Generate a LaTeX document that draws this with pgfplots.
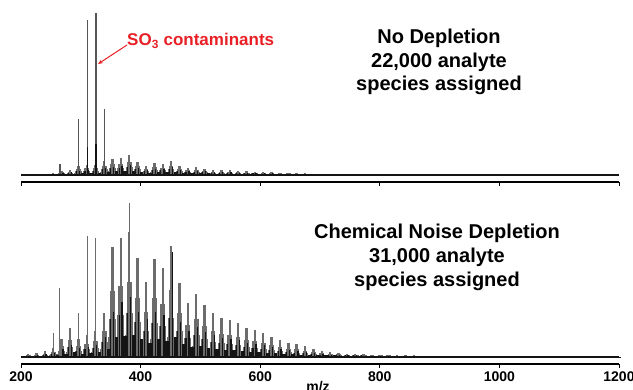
\documentclass[border=0pt]{standalone}
\usepackage{pgfplots}
\pgfplotsset{compat=1.18}
\usepackage{pgfplotstable}
\usepackage{fontspec}
\setmainfont{Liberation Sans}
\usetikzlibrary{arrows.meta}
\definecolor{clgray}{RGB}{108,108,108}
\definecolor{clblack}{RGB}{20,20,20}
\definecolor{clred}{RGB}{232,32,38}
\definecolor{linegray}{RGB}{85,85,85}

% bottom panel (Chemical Noise Depletion): cluster centre c, spike h, upper m, middle s, base b, black spike k
\pgfplotstableread{
c h m s b k
212 3 2 1.2 0.8 1.5
226 4 2.5 1.5 1 2
240 6 3.5 2 1.2 3
254 9 5.5 3 1.8 4
268 18 11 6 3.5 8
282 29 17 10 5 12
296 18 11 6 3.5 9
310 22 13 8 4 10
324 26 16 9 5 12
339 44 26 15 8 20
353 110 66 38 20 45
367 119 71 42 21 55
381 125 75 44 22 60
395 99 59 35 18 45
409 75 45 26 14 38
423 98 59 34 18 45
437 89 53 31 16 42
451 111 67 39 20 105
465 74 44 26 13 35
479 54 32 19 10 26
493 63 38 22 11 30
507 52 31 18 9 25
521 44 26 15 8 22
535 39 23 14 7 19
549 37 22 13 7 18
563 34 20 12 6 17
577 29 17 10 5 14
591 27 16 9.5 5 13
605 24 14 8.5 4.5 12
619 20 12 7 4 10
633 17 10 6 3.5 8
647 14 8.5 5 3 7
661 13 8 4.5 2.5 6
675 11 6.5 4 2.2 5
689 8 5 3 2 4
703 6 4 2.5 1.8 3
717 5 3.3 2.2 1.6 2.5
731 4 2.8 2 1.5 2
745 3.5 2.5 1.8 1.4 1.8
759 3 2.2 1.7 1.3 1.6
773 2.6 2 1.6 1.2 1.4
787 2.4 1.9 1.5 1.1 1.3
801 2.2 1.8 1.4 1.1 1.2
815 2 1.6 1.3 1 1.1
829 1.9 1.5 1.2 1 1
843 1.8 1.4 1.1 0.9 1
857 1.6 1.3 1.1 0.9 1
871 1.5 1.2 1 0.8 0.9
885 1.4 1.1 0.9 0.8 0.8
899 1.3 1 0.9 0.7 0.8
913 1.2 1 0.8 0.7 0.7
927 1.1 0.9 0.8 0.6 0.7
941 1 0.8 0.7 0.6 0.6
955 1 0.8 0.7 0.6 0.6
969 0.9 0.7 0.6 0.5 0.5
983 0.9 0.7 0.6 0.5 0.5
997 0.8 0.6 0.5 0.5 0.5
1011 0.8 0.6 0.5 0.4 0.4
1025 0.7 0.5 0.5 0.4 0.4
1039 0.7 0.5 0.4 0.4 0.4
1053 0.6 0.5 0.4 0.3 0.3
1067 0.6 0.4 0.4 0.3 0.3
1081 0.5 0.4 0.3 0.3 0.3
1095 0.5 0.4 0.3 0.3 0.3
1109 0.5 0.4 0.3 0.3 0.3
1123 0.4 0.3 0.3 0.2 0.2
1137 0.4 0.3 0.3 0.2 0.2
1151 0.4 0.3 0.3 0.2 0.2
1165 0.4 0.3 0.2 0.2 0.2
1179 0.3 0.3 0.2 0.2 0.2
1193 0.3 0.2 0.2 0.2 0.2
}\bottomdata

% top panel (No Depletion)
\pgfplotstableread{
c h m s b k
226 0.8 0.6 0.5 0.4 0.4
240 1 0.8 0.6 0.5 0.5
254 2 1.4 1 0.7 1
268 4 2.6 1.7 1.1 2
282 5 3.3 2.2 1.3 2.5
296 9 6 3.8 2.2 4
310 10 6.5 4 2.4 5
324 10 6.5 4 2.4 5
339 14 9 5.5 3 7
353 16 10.5 6.5 3.5 8
367 17 11 7 3.8 9
381 20 13 8 4.2 10
395 13 8.5 5.5 3 7
409 9 6 3.8 2.2 5
423 12 8 5 2.8 6
437 11 7.2 4.5 2.6 6
451 14 9 5.5 3 8
465 9 6 3.8 2.2 5
479 7 4.6 3 1.8 4
493 8 5.2 3.3 2 4
507 6 4 2.6 1.6 3.5
521 5 3.4 2.2 1.4 3
535 5 3.4 2.2 1.4 3
549 4.5 3 2 1.3 2.5
563 4 2.7 1.8 1.2 2.3
577 3.5 2.4 1.7 1.1 2
591 3 2.1 1.5 1 1.8
605 2.8 2 1.4 1 1.6
619 2.5 1.8 1.3 0.9 1.5
633 2.2 1.6 1.2 0.9 1.3
647 2 1.5 1.1 0.8 1.2
661 1.8 1.3 1 0.8 1.1
675 1.5 1.1 0.9 0.7 1
689 1.3 1 0.8 0.6 0.9
703 1.2 0.9 0.7 0.6 0.8
717 1 0.8 0.7 0.5 0.7
731 1 0.8 0.6 0.5 0.7
745 0.9 0.7 0.6 0.5 0.6
759 0.8 0.6 0.5 0.4 0.5
773 0.7 0.5 0.5 0.4 0.4
}\topdata

\pgfplotsset{
  specaxis/.style={
    scale only axis, width=598pt,
    xmin=200, xmax=1200, ymin=-7,
    axis x line*=bottom, hide y axis,
    xtick={200,400,600,800,1000,1200},
    tick align=outside, major tick length=4pt,
    tick style={black, line width=1pt},
    axis line style={black, line width=1.3pt},
    /pgf/number format/assume math mode=true,
    ticklabel style={font=\bfseries\fontsize{14}{14}\selectfont},
    clip=false,
  },
  lay3/.style={clgray, ycomb, line width=8.4pt, mark=none},
  lay2/.style={clgray, ycomb, line width=6.8pt, mark=none},
  lay1/.style={clgray, ycomb, line width=4.8pt, mark=none},
  spike/.style={clgray, ycomb, line width=2.4pt, mark=none},
  blk/.style={clblack, ycomb, line width=1.3pt, mark=none},
  blk2/.style={clblack, ycomb, line width=1.1pt, mark=none},
  floor/.style={clblack, ycomb, line width=3.4pt, mark=none},
}

\begin{document}
\begin{tikzpicture}[x=1pt,y=1pt]
\useasboundingbox (0,0) rectangle (633,389);

% ---------- bottom panel ----------
\begin{axis}[specaxis, at={(21pt,25pt)}, anchor=south west,
  height=172pt, ymax=165,
  xticklabels={200,400,600,800,1000,1200}]
  \addplot[lay3] table[x=c,y=b] {\bottomdata};
  \addplot[lay2] table[x=c,y=s] {\bottomdata};
  \addplot[lay1] table[x=c,y=m] {\bottomdata};
  \addplot[spike] table[x=c,y=h] {\bottomdata};
  \addplot[floor] table[x expr=\thisrow{c}+7,y=b] {\bottomdata};
  \addplot[blk] table[x expr=\thisrow{c}+2,y=k] {\bottomdata};
  \addplot[blk2] table[x expr=\thisrow{c}-3,y=s] {\bottomdata};
  \addplot[clgray, ycomb, line width=1.1pt, mark=none] coordinates {
    (254,24) (265,69) (296,44) (311,121) (325,119) (381.5,154)};
  \addplot[clblack, line width=1.2pt] coordinates {(200,0) (1200,0)};
\end{axis}

% ---------- top panel ----------
\begin{axis}[specaxis, at={(21pt,207pt)}, anchor=south west,
  height=182pt, ymax=175,
  xticklabels={}]
  \addplot[lay3] table[x=c,y=b] {\topdata};
  \addplot[lay2] table[x=c,y=s] {\topdata};
  \addplot[lay1] table[x=c,y=m] {\topdata};
  \addplot[spike] table[x=c,y=h] {\topdata};
  \addplot[floor] table[x expr=\thisrow{c}+7,y=b] {\topdata};
  \addplot[blk] table[x expr=\thisrow{c}+2,y=k] {\topdata};
  \addplot[blk2] table[x expr=\thisrow{c}-3,y=s] {\topdata};
  \addplot[linegray, ycomb, line width=1.3pt, mark=none] coordinates {
    (265,11) (296,56) (311,155) (325.5,162) (339.5,66)};
  \addplot[clblack, ycomb, line width=1.3pt, mark=none] coordinates {
    (311,28) (325.5,31)};
  \addplot[clblack, line width=1.2pt] coordinates {(200,0) (1200,0)};
\end{axis}

% ---------- annotations ----------
\node[font=\bfseries\fontsize{14}{14}\selectfont, anchor=north, inner sep=0pt] at (318,8) {m/z};
\node[font=\bfseries\fontsize{20}{23.5}\selectfont, align=center] at (439,327)
  {No Depletion\\22,000 analyte\\species assigned};
\node[font=\bfseries\fontsize{20}{24}\selectfont, align=center] at (437,132)
  {Chemical Noise Depletion\\31,000 analyte\\species assigned};
\node[font=\bfseries\fontsize{17}{17}\selectfont, text=clred, anchor=base west, inner sep=0pt]
  at (127,343) {SO\textsubscript{3} contaminants};
\draw[clred, line width=1pt, -{Stealth[length=5pt,width=4pt]}] (127,344) -- (98,325);
\end{tikzpicture}
\end{document}
